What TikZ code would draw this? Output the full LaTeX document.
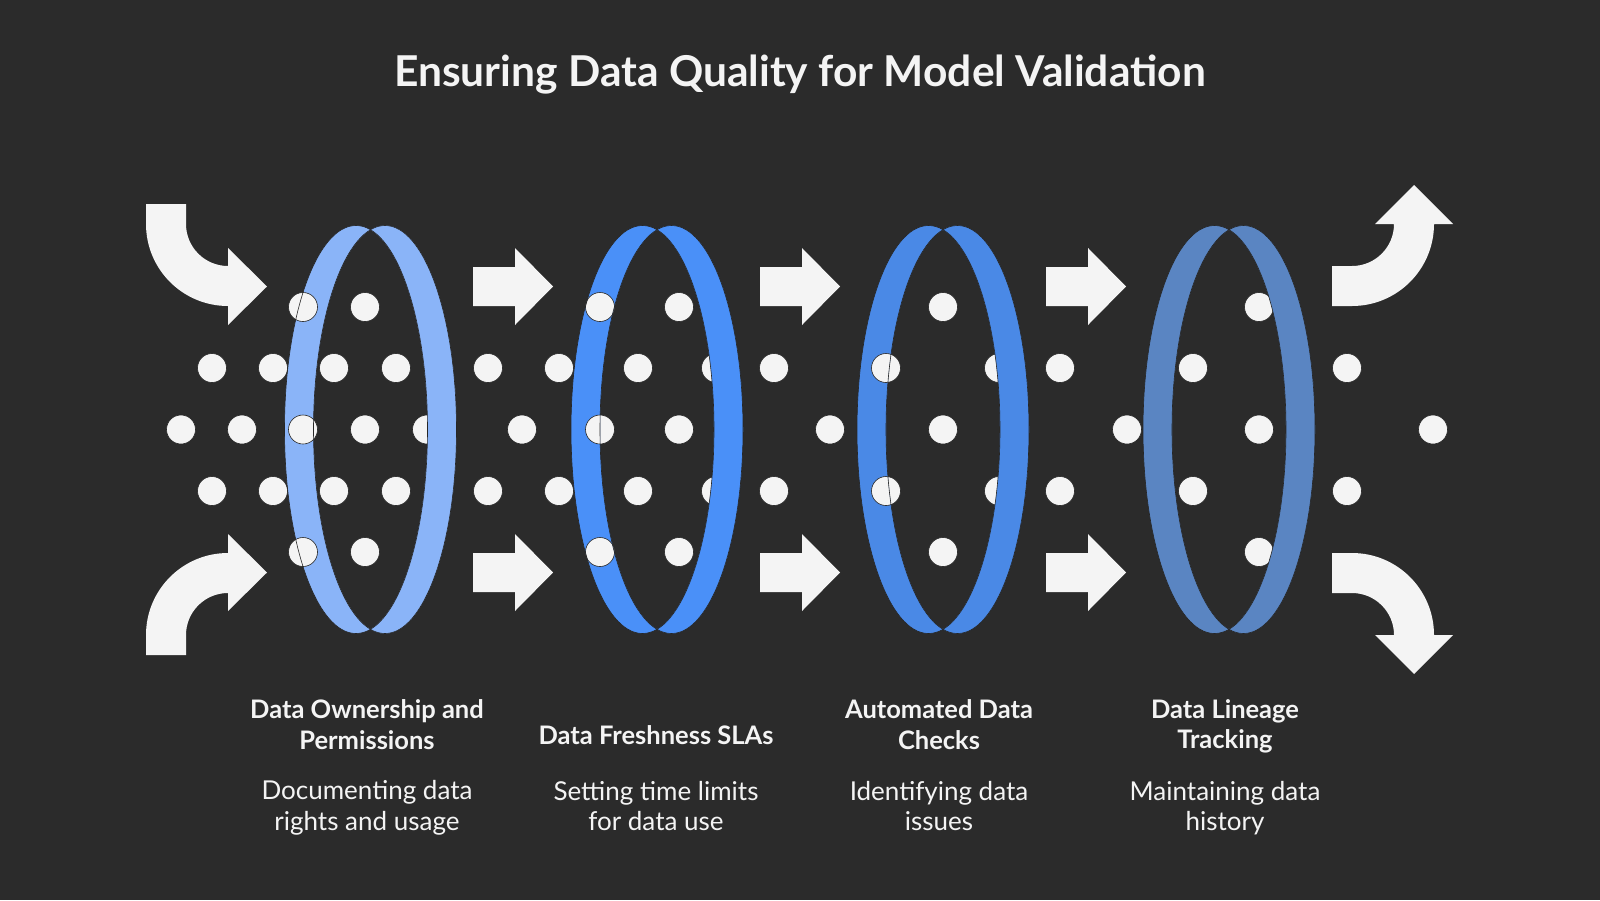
\documentclass[tikz,border=0pt]{standalone}
\usepackage{fontspec}
\setmainfont{Lato}
\definecolor{bg}{HTML}{2B2B2B}
\definecolor{dotw}{HTML}{F4F4F4}
\definecolor{ringA}{HTML}{8AB4F8}
\definecolor{ringB}{HTML}{4A90F8}
\definecolor{ringC}{HTML}{4A89E6}
\definecolor{ringD}{HTML}{5A85C2}
% ring: both crescents, then the right one again over the dots
\newcommand{\Rng}[2]{%
  \fill[#2, even odd rule] (#1-14.5,429.5) ellipse [x radius=71.5, y radius=204]
    (#1+14.5,429.5) ellipse [x radius=71.5, y radius=204];}
\newcommand{\RngR}[2]{%
  \begin{scope}
    \clip (#1+14.5,429.5) ellipse [x radius=71.5, y radius=204];
    \fill[#2, even odd rule] (#1-14.5,429.5) ellipse [x radius=71.5, y radius=204]
      (#1+14.5,429.5) ellipse [x radius=71.5, y radius=204];
  \end{scope}
  \draw[edge] (#1-14.5,429.5) ellipse [x radius=71.5, y radius=204];
  \draw[edge] (#1+14.5,429.5) ellipse [x radius=71.5, y radius=204];}
\newcommand{\Arr}[2]{%
  \fill[arw] (#1,#2-19.5) -- (#1+42,#2-19.5) -- (#1+42,#2-38.5) -- (#1+80,#2)
    -- (#1+42,#2+38.5) -- (#1+42,#2+19.5) -- (#1,#2+19.5) -- cycle;}
\newcommand{\Dt}[2]{\filldraw[dot] (#1,#2) circle (14.5);}

\begin{document}
\begin{tikzpicture}[x=1pt,y=-1pt,
    dot/.style={fill=dotw, draw=black!85, line width=.6pt},
    arw/.style={fill=dotw},
    edge/.style={draw=black!85, line width=.6pt},
    head/.style={text=dotw, font=\bfseries\fontsize{25.5}{30.6}\selectfont, align=center},
    desc/.style={text=dotw, font=\fontsize{26}{30.6}\selectfont, align=center}]
  \useasboundingbox (0,0) rectangle (1600,900);
  \fill[bg] (0,0) rectangle (1600,900);

  % title
  \node[text=dotw, font=\bfseries\fontsize{42.5}{50}\selectfont] (title) at (800,74.5)
    {Ensuring Data Quality for Model Validation};

  % rings
  \Rng{370.5}{ringA}
  \Rng{657}{ringB}
  \Rng{943}{ringC}
  \Rng{1229}{ringD}

  % straight arrows
  \Arr{473}{286.5}  \Arr{473}{572.5}
  \Arr{760}{286.5}  \Arr{760}{572.5}
  \Arr{1046}{286.5} \Arr{1046}{572.5}

  % curved arrows in
  \fill[arw] (146,204) -- (186,204) -- (186,224) arc[start angle=180, end angle=90, radius=42]
    -- (228,248) -- (267,286.5) -- (228,325) -- (228,306)
    arc[start angle=90, end angle=180, radius=82] -- cycle;
  \fill[arw] (146,655) -- (186,655) -- (186,635) arc[start angle=180, end angle=270, radius=42]
    -- (228,611) -- (267,572.5) -- (228,534) -- (228,553)
    arc[start angle=270, end angle=180, radius=82] -- cycle;

  % curved arrows out
  \fill[arw] (1332,266) -- (1352,266) arc[start angle=90, end angle=0, radius=42]
    -- (1375,224) -- (1414,185) -- (1453,224) -- (1434,224)
    arc[start angle=0, end angle=90, radius=82] -- (1332,306) -- cycle;
  \fill[arw] (1332,593) -- (1352,593) arc[start angle=270, end angle=360, radius=42]
    -- (1375,635) -- (1414,674) -- (1453,635) -- (1434,635)
    arc[start angle=360, end angle=270, radius=82] -- (1332,553) -- cycle;

  % dots
  \Dt{181}{429.5} \Dt{242}{429.5}
  \Dt{212}{368} \Dt{273}{368} \Dt{212}{491} \Dt{273}{491}
  \Dt{303}{307} \Dt{365}{307} \Dt{303}{552} \Dt{365}{552}
  \Dt{334}{368} \Dt{396}{368} \Dt{334}{491} \Dt{396}{491}
  \Dt{303}{429.5} \Dt{365}{429.5} \Dt{427}{429.5}
  \Dt{488}{368} \Dt{559}{368} \Dt{488}{491} \Dt{559}{491} \Dt{522}{429.5}
  \Dt{600}{307} \Dt{679}{307} \Dt{600}{552} \Dt{679}{552}
  \Dt{638}{368} \Dt{716}{368} \Dt{638}{491} \Dt{716}{491}
  \Dt{600}{429.5} \Dt{679}{429.5}
  \Dt{774}{368} \Dt{774}{491} \Dt{830}{429.5}
  \Dt{943}{307} \Dt{943}{552} \Dt{943}{429.5}
  \Dt{886}{368} \Dt{999}{368} \Dt{886}{491} \Dt{999}{491}
  \Dt{1060}{368} \Dt{1060}{491} \Dt{1127}{429.5}
  \Dt{1259}{307} \Dt{1259}{552} \Dt{1259}{429.5}
  \Dt{1193}{368} \Dt{1193}{491}
  \Dt{1347}{368} \Dt{1347}{491} \Dt{1433}{429.5}

  % right halves over the dots
  \RngR{370.5}{ringA}
  \RngR{657}{ringB}
  \RngR{943}{ringC}
  \RngR{1229}{ringD}

  % labels
  \node[head] (h1) at (367,724.5) {Data Ownership and\\Permissions};
  \node[head] (h2) at (656,735) {Data Freshness SLAs};
  \node[head] (h3) at (939,724.5) {Automated Data\\Checks};
  \node[head] (h4) at (1225,726.5) {Data Lineage\\Tracking};
  \node[desc] (d1) at (367,808) {Documenting data\\rights and usage};
  \node[desc] (d2) at (656,806) {Setting time limits\\for data use};
  \node[desc] (d3) at (939,806) {Identifying data\\issues};
  \node[desc] (d4) at (1225,808) {Maintaining data\\history};
\end{tikzpicture}
\end{document}
